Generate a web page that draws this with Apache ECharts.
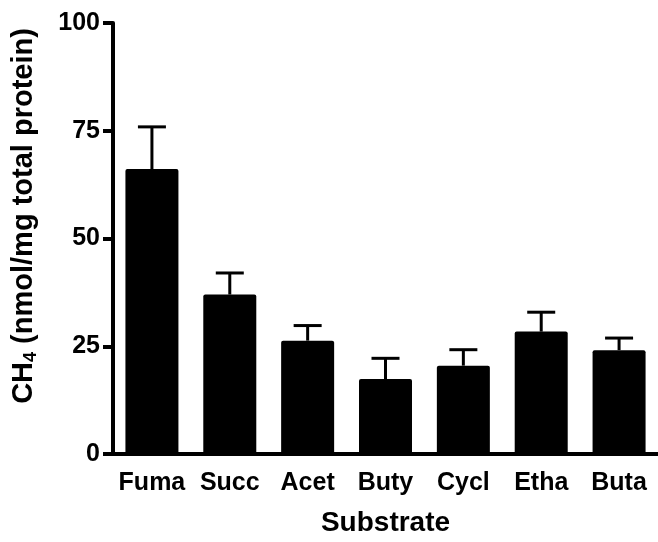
<!DOCTYPE html>
<html>
<head>
<meta charset="utf-8">
<script src="https://cdn.jsdelivr.net/npm/echarts@6/dist/echarts.min.js"></script>
<style>html,body{margin:0;padding:0;background:#fff}#c{width:658px;height:542px}</style>
</head>
<body>
<div id="c"></div>
<script>
var categories = ['Fuma', 'Succ', 'Acet', 'Buty', 'Cycl', 'Etha', 'Buta'];
var means = [66.1, 37.0, 26.3, 17.4, 20.5, 28.4, 24.1];
var errors = [9.8, 5.0, 3.5, 4.8, 3.7, 4.5, 2.8];
var yTicks = [0, 25, 50, 75, 100];

var FONT = '"Liberation Sans", Arial, Helvetica, sans-serif';
var chart = echarts.init(document.getElementById('c'), null, {renderer: 'canvas'});

var errData = categories.map(function (c, i) { return [i, means[i], means[i] + errors[i]]; });

chart.setOption({
  animation: false,
  backgroundColor: '#fff',
  grid: {left: 113, right: 0, top: 23, bottom: 83, containLabel: false},
  xAxis: {
    type: 'category',
    data: categories,
    boundaryGap: true,
    axisLine: {lineStyle: {color: '#000', width: 4}},
    axisTick: {alignWithLabel: true, length: 10, lineStyle: {color: '#000', width: 4}},
    axisLabel: {color: '#000', fontFamily: FONT, fontWeight: 'bold', fontSize: 25, margin: 17, interval: 0, hideOverlap: false},
    name: 'Substrate',
    nameLocation: 'middle',
    nameGap: 55,
    nameTextStyle: {color: '#000', fontFamily: FONT, fontWeight: 'bold', fontSize: 28}
  },
  yAxis: {
    type: 'value',
    min: yTicks[0],
    max: yTicks[yTicks.length - 1],
    interval: 25,
    splitLine: {show: false},
    axisLine: {show: true, lineStyle: {color: '#000', width: 4}},
    axisTick: {show: true, length: 10, lineStyle: {color: '#000', width: 4}},
    axisLabel: {color: '#000', fontFamily: FONT, fontWeight: 'bold', fontSize: 25, margin: 13}
  },
  graphic: [{
    type: 'text',
    x: 24, y: 216,
    rotation: Math.PI / 2,
    style: {
      text: '{a|CH}{s|4}{a| (nmol/mg total protein)}',
      align: 'center',
      verticalAlign: 'middle',
      rich: {
        a: {fontFamily: FONT, fontWeight: 'bold', fontSize: 29, fill: '#000'},
        s: {fontFamily: FONT, fontWeight: 'bold', fontSize: 18, fill: '#000', padding: [14, 0, 0, 0]}
      }
    }
  }],
  series: [
    {
      type: 'bar',
      data: means,
      barWidth: 53,
      itemStyle: {color: '#000', borderRadius: 2},
      z: 2
    },
    {
      type: 'custom',
      data: errData,
      z: 1,
      renderItem: function (params, api) {
        var x = api.value(0);
        var base = api.coord([x, api.value(1)]);
        var top = api.coord([x, api.value(2)]);
        var half = 14;
        return {
          type: 'group',
          children: [
            {type: 'line', shape: {x1: base[0], y1: base[1], x2: top[0], y2: top[1]}, style: {stroke: '#000', lineWidth: 3}},
            {type: 'line', shape: {x1: top[0] - half, y1: top[1], x2: top[0] + half, y2: top[1]}, style: {stroke: '#000', lineWidth: 3}}
          ]
        };
      }
    }
  ]
});
</script>
</body>
</html>
